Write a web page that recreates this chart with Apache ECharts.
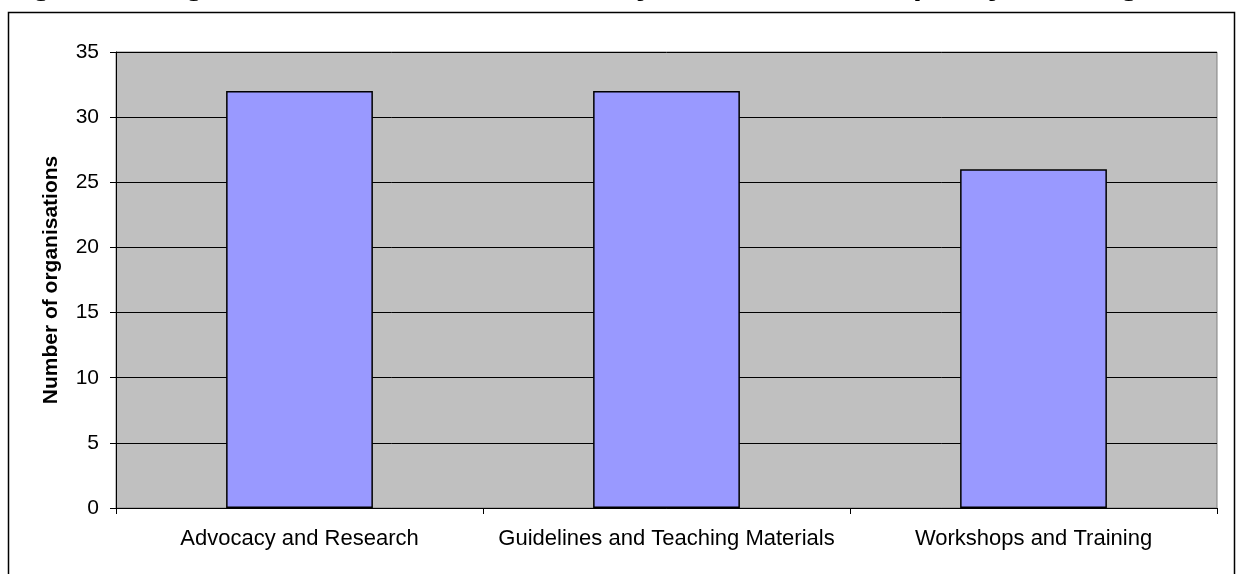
<!DOCTYPE html>
<html>
<head>
<meta charset="utf-8">
<script src="https://cdn.jsdelivr.net/npm/echarts@6/dist/echarts.min.js"></script>
<style>
  html, body { margin: 0; padding: 0; background: #fff; }
  #chart { width: 1241px; height: 574px; }
</style>
</head>
<body>
<div id="chart"></div>
<script>
// Activities and number of organisations working in each
const categories = ['Advocacy and Research', 'Guidelines and Teaching Materials', 'Workshops and Training'];
const organisationCounts = [32, 32, 26];
const yTicks = { min: 0, max: 35, interval: 5 };
const titleText = 'Figure 5: Organisations active in advocacy, research and capacity building';
const yAxisTitle = 'Number of organisations';

const FONT = '"Liberation Sans", Arial, sans-serif';

const chart = echarts.init(document.getElementById('chart'), null, { renderer: 'canvas' });

chart.setOption({
  animation: false,
  backgroundColor: '#ffffff',
  grid: {
    left: 116, right: 24, top: 52, bottom: 66,
    show: true,
    backgroundColor: '#C0C0C0',
    borderColor: '#808080',
    borderWidth: 1
  },
  graphic: [
    {
      type: 'rect',
      silent: true,
      z: 100,
      shape: { x: 8.5, y: 12.5, width: 1226, height: 620 },
      style: { fill: 'none', stroke: '#000', lineWidth: 1.5 }
    },
    {
      type: 'text',
      silent: true,
      z: 100,
      style: {
        text: titleText,
        x: 3,
        y: -15,
        verticalAlign: 'middle',
        textAlign: 'left',
        font: 'bold 32px ' + FONT,
        fill: '#000'
      }
    }
  ],
  xAxis: {
    type: 'category',
    data: categories,
    boundaryGap: true,
    axisLine: { lineStyle: { color: '#000', width: 1 } },
    axisTick: { show: true, alignWithLabel: false, length: 6, lineStyle: { color: '#000' } },
    axisLabel: {
      interval: 0,
      margin: 20,
      color: '#000',
      fontFamily: FONT,
      fontSize: 22
    },
    splitLine: { show: false }
  },
  yAxis: {
    type: 'value',
    min: yTicks.min,
    max: yTicks.max,
    interval: yTicks.interval,
    name: yAxisTitle,
    nameLocation: 'middle',
    nameGap: 54,
    nameTextStyle: {
      fontFamily: FONT,
      fontWeight: 'bold',
      fontSize: 21,
      color: '#000'
    },
    axisLine: { show: true, lineStyle: { color: '#000', width: 1 } },
    axisTick: { show: true, length: 6, lineStyle: { color: '#000' } },
    axisLabel: {
      margin: 17,
      color: '#000',
      fontFamily: FONT,
      fontSize: 21
    },
    splitLine: { show: true, lineStyle: { color: '#000', width: 1 } }
  },
  series: [{
    type: 'bar',
    data: organisationCounts,
    barWidth: '40%',
    itemStyle: {
      color: '#9999FF',
      borderColor: '#000',
      borderWidth: 1.5
    }
  }]
});
</script>
</body>
</html>
